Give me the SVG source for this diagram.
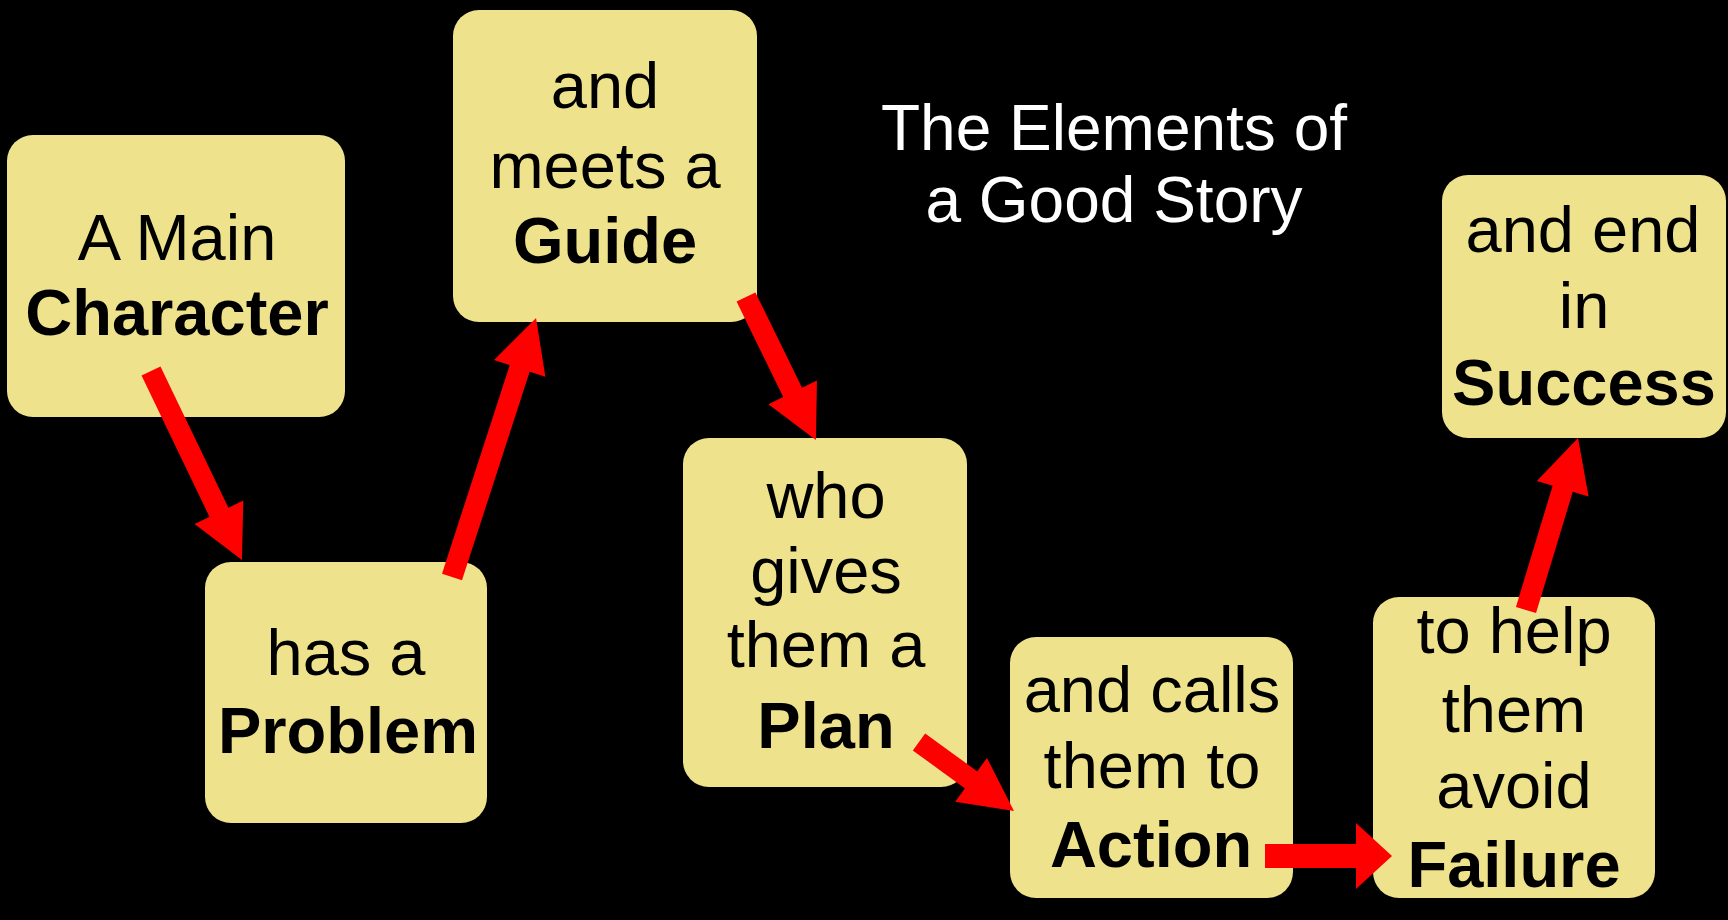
<svg xmlns="http://www.w3.org/2000/svg" width="1728" height="920" viewBox="0 0 1728 920">
  <defs>
    <style>
      .box { fill: #EEE38C; }
      .t { font-family: "Liberation Sans", Arial, sans-serif; font-size: 65px; fill: #000; text-anchor: middle; }
      .b { font-weight: bold; }
      .title { font-family: "Liberation Sans", Arial, sans-serif; font-size: 64px; fill: #fff; text-anchor: middle; }
      .arrow { stroke: #FF0000; stroke-width: 21; fill: none; marker-end: url(#ah); }
      .arrow-wide { stroke: #FF0000; stroke-width: 24; fill: none; marker-end: url(#ahw); }
    </style>
    <marker id="ah" markerUnits="userSpaceOnUse" markerWidth="60" markerHeight="60" refX="0" refY="0" orient="auto" overflow="visible">
      <path d="M-1,-27 L52,0 L-1,27 Z" fill="#FF0000"/>
    </marker>
    <marker id="ahw" markerUnits="userSpaceOnUse" markerWidth="70" markerHeight="70" refX="0" refY="0" orient="auto" overflow="visible">
      <path d="M-1,-33 L35,0 L-1,33 Z" fill="#FF0000"/>
    </marker>
  </defs>
  <rect x="0" y="0" width="1728" height="920" fill="#000"/>

  <g id="title">
    <text class="title" x="1114" y="150">The Elements of</text>
    <text class="title" x="1114" y="222">a Good Story</text>
  </g>

  <g id="node-character">
    <rect class="box" x="7" y="135" width="338" height="282" rx="26"/>
    <text class="t" x="177" y="260">A Main</text>
    <text class="t b" x="177" y="335">Character</text>
  </g>

  <g id="node-problem">
    <rect class="box" x="205" y="562" width="282" height="261" rx="26"/>
    <text class="t" x="346" y="675">has a</text>
    <text class="t b" x="348" y="753">Problem</text>
  </g>

  <g id="node-guide">
    <rect class="box" x="453" y="10" width="304" height="312" rx="26"/>
    <text class="t" x="605" y="108">and</text>
    <text class="t" x="605" y="188">meets a</text>
    <text class="t b" x="605" y="263">Guide</text>
  </g>

  <g id="node-plan">
    <rect class="box" x="683" y="438" width="284" height="349" rx="26"/>
    <text class="t" x="826" y="518">who</text>
    <text class="t" x="826" y="593">gives</text>
    <text class="t" x="826" y="667">them a</text>
    <text class="t b" x="826" y="748">Plan</text>
  </g>

  <g id="node-action">
    <rect class="box" x="1010" y="637" width="283" height="261" rx="26"/>
    <text class="t" x="1152" y="712">and calls</text>
    <text class="t" x="1152" y="788">them to</text>
    <text class="t b" x="1151" y="867">Action</text>
  </g>

  <g id="node-failure">
    <rect class="box" x="1373" y="597" width="282" height="301" rx="26"/>
    <text class="t" x="1514" y="653">to help</text>
    <text class="t" x="1514" y="732">them</text>
    <text class="t" x="1514" y="808">avoid</text>
    <text class="t b" x="1514" y="887">Failure</text>
  </g>

  <g id="node-success">
    <rect class="box" x="1442" y="175" width="284" height="263" rx="26"/>
    <text class="t" x="1583" y="252">and end</text>
    <text class="t" x="1584" y="328">in</text>
    <text class="t b" x="1584" y="405">Success</text>
  </g>

  <g id="connectors">
    <line class="arrow" x1="151" y1="371" x2="219.4" y2="513.2"/>
    <line class="arrow" x1="452" y1="577" x2="520" y2="367.5"/>
    <line class="arrow" x1="746" y1="297" x2="793.1" y2="393.3"/>
    <line class="arrow" x1="919" y1="742" x2="971.9" y2="780.4"/>
    <line class="arrow-wide" x1="1265" y1="856" x2="1357" y2="856"/>
    <line class="arrow" x1="1526" y1="610" x2="1563" y2="487.8"/>
  </g>
</svg>
